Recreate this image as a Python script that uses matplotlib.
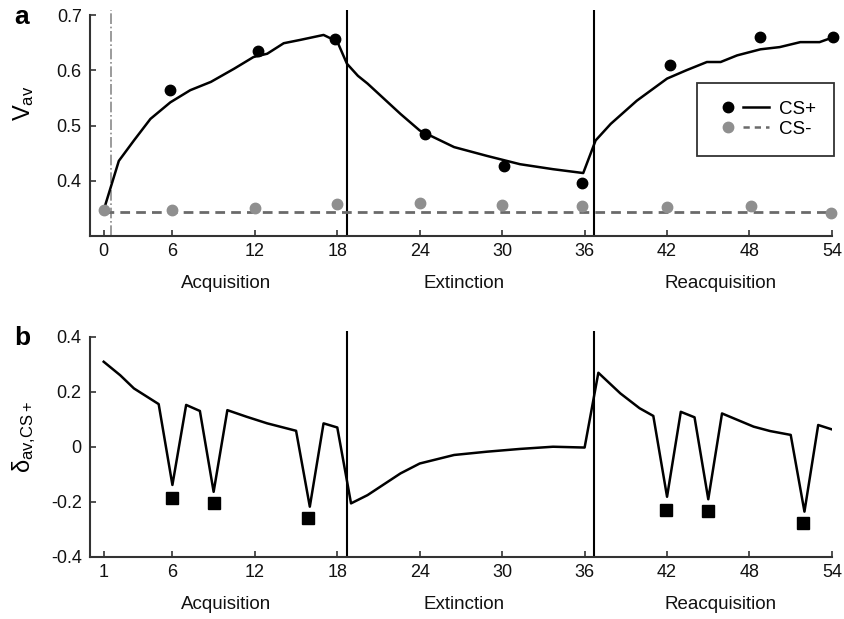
import matplotlib
matplotlib.use("Agg")
import matplotlib.pyplot as plt
from matplotlib.lines import Line2D
from matplotlib.legend_handler import HandlerTuple

plt.rcParams['font.family'] = ['Liberation Sans', 'DejaVu Sans']
plt.rcParams['mathtext.fontset'] = 'custom'
plt.rcParams['mathtext.rm'] = 'Liberation Sans'
plt.rcParams['mathtext.it'] = 'Liberation Sans'

# ---- panel a: average values ----
cs_plus_line_x = [1.1, 2.1, 3.2, 4.4, 5.85, 7.3, 8.8, 10.5, 11.9, 12.9, 14.1, 15.3, 17, 18, 18.7,
                  19.5, 20.2, 22.6, 24, 26.5, 28.9, 31.3, 33.7, 35.9, 36.8, 37.9, 39.8, 42, 43.4,
                  44.9, 45.9, 47.1, 48.8, 50.2, 51.7, 53.1, 54]
cs_plus_line_y = [0.355, 0.436, 0.473, 0.512, 0.542, 0.564, 0.579, 0.603, 0.624, 0.630, 0.649, 0.655,
                  0.664, 0.652, 0.612, 0.590, 0.576, 0.521, 0.491, 0.461, 0.445, 0.430, 0.421, 0.414,
                  0.473, 0.503, 0.545, 0.585, 0.600, 0.615, 0.615, 0.627, 0.638, 0.642, 0.651, 0.651,
                  0.659]
cs_minus_line_x = [1, 54]
cs_minus_line_y = [0.344, 0.344]

cs_plus_dots_x = [5.8, 12.2, 17.8, 24.35, 30.15, 35.8, 42.2, 48.8, 54.1]
cs_plus_dots_y = [0.565, 0.635, 0.656, 0.484, 0.426, 0.396, 0.609, 0.660, 0.660]
cs_minus_dots_x = [1, 6, 12, 18, 24, 30, 35.8, 42, 48.1, 53.9]
cs_minus_dots_y = [0.348, 0.348, 0.350, 0.358, 0.360, 0.356, 0.355, 0.353, 0.355, 0.342]

# ---- panel b: prediction error ----
delta_x = [1, 2.2, 3.2, 5, 6, 7, 8, 9, 10, 11.4, 12.9, 15, 16, 17, 18, 19, 20.2, 22.6, 24, 26.5,
           28.9, 31.3, 33.7, 36, 37, 38.6, 40, 41, 42, 43, 44, 45, 46, 48.3, 49.5, 51, 52, 53, 54]
delta_y = [0.309, 0.260, 0.212, 0.155, -0.139, 0.152, 0.130, -0.164, 0.133, 0.109, 0.085, 0.058,
           -0.218, 0.085, 0.070, -0.206, -0.176, -0.097, -0.061, -0.030, -0.018, -0.008, 0.0,
           -0.003, 0.269, 0.194, 0.140, 0.112, -0.182, 0.127, 0.107, -0.191, 0.121, 0.073, 0.057,
           0.043, -0.236, 0.079, 0.063]
square_x = [5.95, 9, 15.9, 41.9, 45, 51.9]
square_y = [-0.188, -0.206, -0.260, -0.230, -0.233, -0.276]

phase_bounds = [18.7, 36.7]
phase_names = ['Acquisition', 'Extinction', 'Reacquisition']
phase_label_x = [9.9, 27.2, 45.9]
tick_pos = [1, 6, 12, 18, 24, 30, 36, 42, 48, 54]
tick_labels_a = ['0', '6', '12', '18', '24', '30', '36', '42', '48', '54']
tick_labels_b = ['1', '6', '12', '18', '24', '30', '36', '42', '48', '54']

axis_col = '#333333'
gray_dot = '#8f8f8f'
gray_line = '#6a6a6a'

fig = plt.figure(figsize=(8.44, 6.19), dpi=100)
ax1 = fig.add_axes([0.1066, 0.6187, 0.8791, 0.3659])
ax2 = fig.add_axes([0.1066, 0.1006, 0.8791, 0.3643])


def style_axes(ax, ylo, yhi, ytop, yticks, ylabels, xlabels):
    ax.set_xlim(0, 54)
    ax.set_ylim(ylo, ytop)
    for s in ['top', 'right']:
        ax.spines[s].set_visible(False)
    for s in ['left', 'bottom']:
        ax.spines[s].set_color(axis_col)
        ax.spines[s].set_linewidth(1.5)
    ax.spines['left'].set_bounds(ylo, yhi)
    ax.spines['bottom'].set_bounds(0, 54)
    ax.set_xticks(tick_pos)
    ax.set_xticklabels(xlabels)
    ax.set_yticks(yticks)
    ax.set_yticklabels(ylabels)
    ax.tick_params(direction='in', length=4.5, width=1.2, color=axis_col,
                   labelsize=13, labelcolor='#111111')
    ax.tick_params(axis='y', pad=6)
    ax.tick_params(axis='x', pad=5)
    for b in phase_bounds:
        ax.axvline(b, color='black', lw=1.5)
    for name, px in zip(phase_names, phase_label_x):
        ax.text(px, -0.21, name, transform=ax.get_xaxis_transform(),
                ha='center', va='center', fontsize=13.5, color='#111111')


style_axes(ax1, 0.3, 0.7, 0.71, [0.4, 0.5, 0.6, 0.7], ['0.4', '0.5', '0.6', '0.7'], tick_labels_a)
style_axes(ax2, -0.4, 0.4, 0.42, [-0.4, -0.2, 0, 0.2, 0.4], ['-0.4', '-0.2', '0', '0.2', '0.4'],
           tick_labels_b)

# panel a
ax1.axvline(1.5, color='#8a8a8a', lw=1.2, ls='-.')
ax1.plot(cs_minus_line_x, cs_minus_line_y, color=gray_line, lw=2, ls=(0, (3.5, 2.2)))
ax1.plot(cs_plus_line_x, cs_plus_line_y, color='black', lw=1.8)
ax1.plot(cs_minus_dots_x, cs_minus_dots_y, 'o', color=gray_dot, ms=7.5, clip_on=False, zorder=4)
ax1.plot(cs_plus_dots_x, cs_plus_dots_y, 'o', color='black', ms=7.5, clip_on=False, zorder=5)

h_plus = (Line2D([], [], marker='o', color='black', ls='none', ms=7.5),
          Line2D([], [], color='black', lw=1.8))
h_minus = (Line2D([], [], marker='o', color=gray_dot, ls='none', ms=7.5),
           Line2D([], [], color=gray_line, lw=1.8, ls=(0, (2.5, 2))))
leg = ax1.legend([h_plus, h_minus], ['CS+', 'CS-'], loc='upper left',
                 bbox_to_anchor=(0.826, 0.866), bbox_transform=fig.transFigure,
                 handler_map={tuple: HandlerTuple(ndivide=None, pad=0.1)},
                 handlelength=2.9, handletextpad=0.5, borderpad=0.95, labelspacing=0.15,
                 borderaxespad=0, fontsize=13.5, fancybox=False, framealpha=1)
leg.get_frame().set_edgecolor(axis_col)
leg.get_frame().set_linewidth(1.3)

# panel b
ax2.plot(delta_x, delta_y, color='black', lw=1.8)
ax2.plot(square_x, square_y, 's', color='black', ms=8, zorder=5)

# labels
fig.text(22 / 844, 1 - 17 / 619, 'a', fontsize=19, fontweight='bold', ha='center', va='center')
fig.text(22 / 844, 1 - 338 / 619, 'b', fontsize=19, fontweight='bold', ha='center', va='center')
fig.text(24 / 844, 1 - 103 / 619, r'$\mathrm{V_{av}}$', fontsize=17, rotation=90,
         ha='center', va='center')
fig.text(24 / 844, 1 - 437 / 619, r'$\mathrm{\delta_{av{,}CS+}}$', fontsize=17, rotation=90,
         ha='center', va='center')

fig.savefig('out.png', dpi=100)
